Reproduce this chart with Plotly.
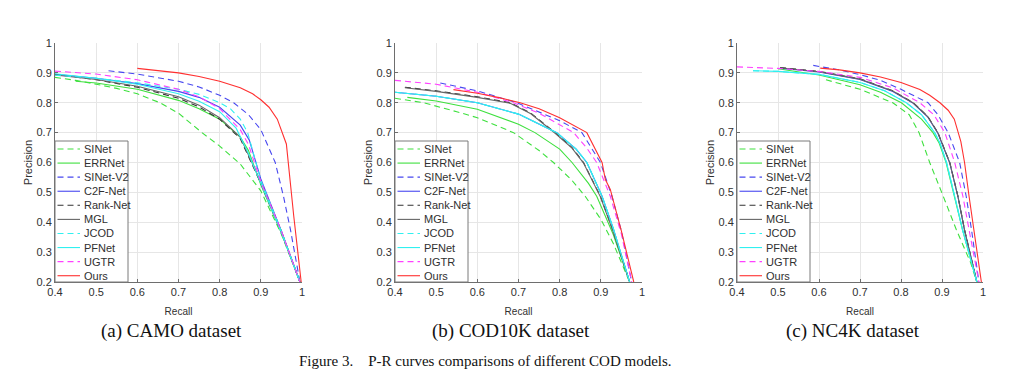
import plotly.graph_objects as go

# ---------------- data ----------------
methods = ["SINet", "ERRNet", "SINet-V2", "C2F-Net", "Rank-Net", "MGL", "JCOD", "PFNet", "UGTR", "Ours"]
colors = ["#3ee03e", "#3ee03e", "#4848f0", "#4848f0", "#333333", "#666666", "#30f0f0", "#30f0f0", "#ff40ff", "#ff3030"]
dashes = ["dash", "solid", "dash", "solid", "dash", "solid", "dash", "solid", "dash", "solid"]

datasets = ["CAMO", "COD10K", "NC4K"]
captions = ["(a) CAMO dataset", "(b) COD10K dataset", "(c) NC4K dataset"]
figure_caption = "Figure 3.\u00a0\u00a0\u00a0 P-R curves comparisons of different COD models."
tick_vals_x = [0.4, 0.5, 0.6, 0.7, 0.8, 0.9, 1.0]
tick_text_x = ["0.4", "0.5", "0.6", "0.7", "0.8", "0.9", "1"]
tick_vals_y = [0.2, 0.3, 0.4, 0.5, 0.6, 0.7, 0.8, 0.9, 1.0]
tick_text_y = ["0.2", "0.3", "0.4", "0.5", "0.6", "0.7", "0.8", "0.9", "1"]

# CAMO
camo_sinet_r = [0.40, 0.45, 0.50, 0.55, 0.60, 0.655, 0.70, 0.757, 0.80, 0.85, 0.90, 0.95, 0.995]
camo_sinet_p = [0.885, 0.875, 0.862, 0.848, 0.83, 0.80, 0.765, 0.70, 0.655, 0.595, 0.505, 0.36, 0.20]
camo_errnet_r = [0.45, 0.50, 0.60, 0.70, 0.75, 0.80, 0.85, 0.87, 0.90, 0.95, 0.995]
camo_errnet_p = [0.872, 0.866, 0.845, 0.808, 0.78, 0.745, 0.685, 0.64, 0.525, 0.365, 0.20]
camo_sinetv2_r = [0.53, 0.60, 0.70, 0.75, 0.80, 0.834, 0.87, 0.90, 0.935, 0.955, 0.972, 0.995]
camo_sinetv2_p = [0.907, 0.896, 0.872, 0.853, 0.825, 0.80, 0.76, 0.71, 0.60, 0.487, 0.375, 0.20]
camo_c2f_r = [0.40, 0.50, 0.60, 0.70, 0.75, 0.80, 0.85, 0.872, 0.90, 0.95, 0.995]
camo_c2f_p = [0.895, 0.882, 0.864, 0.838, 0.818, 0.785, 0.725, 0.675, 0.545, 0.37, 0.20]
camo_rank_r = [0.40, 0.50, 0.60, 0.70, 0.75, 0.80, 0.85, 0.90, 0.95, 0.995]
camo_rank_p = [0.895, 0.877, 0.852, 0.815, 0.786, 0.745, 0.68, 0.53, 0.365, 0.20]
camo_mgl_r = [0.40, 0.50, 0.60, 0.70, 0.75, 0.80, 0.85, 0.90, 0.95, 0.995]
camo_mgl_p = [0.893, 0.878, 0.855, 0.82, 0.792, 0.75, 0.685, 0.535, 0.37, 0.20]
camo_jcod_r = [0.40, 0.50, 0.60, 0.70, 0.75, 0.80, 0.826, 0.85, 0.868, 0.90, 0.95, 0.995]
camo_jcod_p = [0.892, 0.882, 0.867, 0.845, 0.828, 0.80, 0.78, 0.745, 0.70, 0.54, 0.37, 0.20]
camo_pfnet_r = [0.40, 0.50, 0.60, 0.70, 0.75, 0.80, 0.84, 0.87, 0.90, 0.95, 0.995]
camo_pfnet_p = [0.897, 0.882, 0.862, 0.83, 0.805, 0.77, 0.715, 0.63, 0.53, 0.365, 0.20]
camo_ugtr_r = [0.40, 0.50, 0.60, 0.70, 0.75, 0.80, 0.85, 0.87, 0.90, 0.95, 0.995]
camo_ugtr_p = [0.906, 0.896, 0.877, 0.845, 0.82, 0.78, 0.71, 0.66, 0.535, 0.37, 0.20]
camo_ours_r = [0.60, 0.65, 0.70, 0.75, 0.80, 0.85, 0.88, 0.90, 0.92, 0.94, 0.962, 0.98, 0.998]
camo_ours_p = [0.915, 0.908, 0.90, 0.888, 0.872, 0.85, 0.83, 0.81, 0.785, 0.745, 0.662, 0.42, 0.20]

# COD10K
cod_sinet_r = [0.40, 0.47, 0.55, 0.60, 0.688, 0.75, 0.785, 0.83, 0.862, 0.90, 0.93, 0.97]
cod_sinet_p = [0.815, 0.80, 0.77, 0.75, 0.70, 0.64, 0.60, 0.54, 0.487, 0.41, 0.33, 0.20]
cod_errnet_r = [0.43, 0.50, 0.60, 0.70, 0.74, 0.80, 0.83, 0.87, 0.89, 0.93, 0.97]
cod_errnet_p = [0.818, 0.806, 0.778, 0.728, 0.70, 0.645, 0.60, 0.53, 0.487, 0.36, 0.20]
cod_sinetv2_r = [0.51, 0.60, 0.696, 0.75, 0.80, 0.854, 0.899, 0.927, 0.95, 0.975]
cod_sinetv2_p = [0.866, 0.84, 0.80, 0.77, 0.74, 0.70, 0.60, 0.487, 0.37, 0.20]
cod_c2f_r = [0.40, 0.50, 0.60, 0.70, 0.793, 0.84, 0.866, 0.903, 0.93, 0.97]
cod_c2f_p = [0.835, 0.822, 0.80, 0.762, 0.70, 0.645, 0.60, 0.487, 0.38, 0.20]
cod_rank_r = [0.424, 0.50, 0.60, 0.68, 0.73, 0.789, 0.83, 0.858, 0.899, 0.93, 0.97]
cod_rank_p = [0.852, 0.84, 0.82, 0.80, 0.765, 0.70, 0.65, 0.60, 0.487, 0.37, 0.20]
cod_mgl_r = [0.424, 0.50, 0.60, 0.68, 0.73, 0.789, 0.83, 0.858, 0.899, 0.93, 0.97]
cod_mgl_p = [0.850, 0.838, 0.818, 0.798, 0.763, 0.698, 0.648, 0.598, 0.485, 0.368, 0.20]
cod_jcod_r = [0.40, 0.50, 0.60, 0.70, 0.793, 0.84, 0.866, 0.903, 0.93, 0.97]
cod_jcod_p = [0.835, 0.822, 0.80, 0.762, 0.70, 0.645, 0.60, 0.487, 0.38, 0.20]
cod_pfnet_r = [0.40, 0.50, 0.60, 0.70, 0.793, 0.84, 0.866, 0.903, 0.93, 0.97]
cod_pfnet_p = [0.835, 0.822, 0.80, 0.762, 0.70, 0.645, 0.60, 0.487, 0.38, 0.20]
cod_ugtr_r = [0.40, 0.50, 0.60, 0.688, 0.75, 0.834, 0.865, 0.89, 0.923, 0.95, 0.975]
cod_ugtr_p = [0.875, 0.862, 0.835, 0.80, 0.765, 0.70, 0.65, 0.60, 0.487, 0.36, 0.20]
cod_ours_r = [0.542, 0.60, 0.65, 0.704, 0.75, 0.80, 0.866, 0.903, 0.911, 0.923, 0.95, 0.98]
cod_ours_p = [0.844, 0.832, 0.818, 0.80, 0.78, 0.75, 0.70, 0.60, 0.543, 0.51, 0.37, 0.20]

# NC4K
nc_sinet_r = [0.617, 0.70, 0.78, 0.82, 0.844, 0.87, 0.903, 0.935, 0.97, 0.985]
nc_sinet_p = [0.877, 0.845, 0.80, 0.76, 0.70, 0.60, 0.487, 0.375, 0.264, 0.20]
nc_errnet_r = [0.50, 0.60, 0.70, 0.75, 0.801, 0.85, 0.878, 0.893, 0.91, 0.93, 0.95, 0.985]
nc_errnet_p = [0.914, 0.893, 0.86, 0.835, 0.80, 0.745, 0.70, 0.665, 0.60, 0.487, 0.375, 0.20]
nc_sinetv2_r = [0.586, 0.65, 0.70, 0.75, 0.80, 0.866, 0.89, 0.915, 0.943, 0.959, 0.972, 0.99]
nc_sinetv2_p = [0.925, 0.91, 0.894, 0.875, 0.845, 0.80, 0.76, 0.70, 0.60, 0.487, 0.375, 0.20]
nc_c2f_r = [0.505, 0.60, 0.70, 0.78, 0.83, 0.865, 0.89, 0.90, 0.919, 0.939, 0.955, 0.985]
nc_c2f_p = [0.916, 0.903, 0.878, 0.838, 0.798, 0.753, 0.698, 0.663, 0.598, 0.485, 0.373, 0.20]
nc_rank_r = [0.505, 0.60, 0.70, 0.78, 0.83, 0.865, 0.89, 0.90, 0.919, 0.939, 0.955, 0.985]
nc_rank_p = [0.918, 0.905, 0.88, 0.84, 0.80, 0.755, 0.70, 0.665, 0.60, 0.487, 0.375, 0.20]
nc_mgl_r = [0.505, 0.60, 0.70, 0.78, 0.83, 0.865, 0.89, 0.90, 0.919, 0.939, 0.955, 0.985]
nc_mgl_p = [0.917, 0.904, 0.879, 0.839, 0.799, 0.754, 0.699, 0.664, 0.599, 0.486, 0.374, 0.20]
nc_jcod_r = [0.439, 0.50, 0.60, 0.70, 0.76, 0.813, 0.85, 0.882, 0.895, 0.911, 0.931, 0.95, 0.985]
nc_jcod_p = [0.907, 0.905, 0.895, 0.868, 0.84, 0.80, 0.76, 0.70, 0.665, 0.60, 0.487, 0.375, 0.20]
nc_pfnet_r = [0.439, 0.50, 0.60, 0.70, 0.76, 0.813, 0.85, 0.882, 0.895, 0.911, 0.931, 0.95, 0.985]
nc_pfnet_p = [0.907, 0.905, 0.895, 0.868, 0.84, 0.80, 0.76, 0.70, 0.665, 0.60, 0.487, 0.375, 0.20]
nc_ugtr_r = [0.40, 0.50, 0.60, 0.70, 0.78, 0.846, 0.88, 0.907, 0.931, 0.951, 0.966, 0.99]
nc_ugtr_p = [0.92, 0.915, 0.905, 0.885, 0.85, 0.80, 0.76, 0.70, 0.60, 0.487, 0.375, 0.20]
nc_ours_r = [0.603, 0.65, 0.70, 0.75, 0.80, 0.846, 0.87, 0.895, 0.915, 0.93, 0.946, 0.955, 0.966, 0.977, 0.996]
nc_ours_p = [0.916, 0.91, 0.90, 0.886, 0.868, 0.844, 0.825, 0.80, 0.775, 0.745, 0.67, 0.60, 0.487, 0.375, 0.20]

curves = [
    [(camo_sinet_r, camo_sinet_p), (camo_errnet_r, camo_errnet_p), (camo_sinetv2_r, camo_sinetv2_p),
     (camo_c2f_r, camo_c2f_p), (camo_rank_r, camo_rank_p), (camo_mgl_r, camo_mgl_p),
     (camo_jcod_r, camo_jcod_p), (camo_pfnet_r, camo_pfnet_p), (camo_ugtr_r, camo_ugtr_p),
     (camo_ours_r, camo_ours_p)],
    [(cod_sinet_r, cod_sinet_p), (cod_errnet_r, cod_errnet_p), (cod_sinetv2_r, cod_sinetv2_p),
     (cod_c2f_r, cod_c2f_p), (cod_rank_r, cod_rank_p), (cod_mgl_r, cod_mgl_p),
     (cod_jcod_r, cod_jcod_p), (cod_pfnet_r, cod_pfnet_p), (cod_ugtr_r, cod_ugtr_p),
     (cod_ours_r, cod_ours_p)],
    [(nc_sinet_r, nc_sinet_p), (nc_errnet_r, nc_errnet_p), (nc_sinetv2_r, nc_sinetv2_p),
     (nc_c2f_r, nc_c2f_p), (nc_rank_r, nc_rank_p), (nc_mgl_r, nc_mgl_p),
     (nc_jcod_r, nc_jcod_p), (nc_pfnet_r, nc_pfnet_p), (nc_ugtr_r, nc_ugtr_p),
     (nc_ours_r, nc_ours_p)],
]

# ---------------- layout geometry (pixels of the 1024x378 page) ----------------
W, H = 1024, 378
x_px = [(55, 302), (395, 642), (737, 983)]
y_px = (43, 282)
DASH = "6px,4px"
SANS = "Liberation Sans, Arial, sans-serif"
SERIF = "Liberation Serif, Times New Roman, serif"

fig = go.Figure()
layout = dict(
    width=W, height=H, margin=dict(l=0, r=0, t=0, b=0, autoexpand=False),
    paper_bgcolor="white", plot_bgcolor="white", showlegend=False,
    shapes=[], annotations=[],
)

for i, ds in enumerate(datasets):
    sfx = "" if i == 0 else str(i + 1)
    xa, ya = "x" + sfx, "y" + sfx
    for m, (r, p) in enumerate(curves[i]):
        fig.add_trace(go.Scatter(
            x=r, y=p, mode="lines", name=methods[m], xaxis=xa, yaxis=ya,
            line=dict(color=colors[m], width=1.1, dash=DASH if dashes[m] == "dash" else "solid"),
            showlegend=False, hoverinfo="name+x+y",
        ))
    axis_common = dict(
        showgrid=True, gridcolor="#e6e6e6", gridwidth=1, zeroline=False,
        showline=True, linecolor="#6e6e6e", linewidth=1,
        ticks="inside", ticklen=3, tickcolor="#6e6e6e", automargin=False,
        tickfont=dict(family=SANS, size=11, color="#303030"),
    )
    layout["xaxis" + sfx] = dict(
        axis_common, domain=[x_px[i][0] / W, x_px[i][1] / W], range=[0.4, 1.0],
        anchor=ya, tickvals=tick_vals_x, ticktext=tick_text_x,
        title=dict(text="Recall", font=dict(family=SANS, size=10, color="#303030"), standoff=10),
    )
    layout["yaxis" + sfx] = dict(
        axis_common, domain=[1 - y_px[1] / H, 1 - y_px[0] / H], range=[0.2, 1.0],
        anchor=xa, tickvals=tick_vals_y, ticktext=tick_text_y,
        title=dict(text="Precision", font=dict(family=SANS, size=11, color="#303030"), standoff=1),
    )
    # in-axes legend box (bottom-left), MATLAB style
    xd, yd = xa + " domain", ya + " domain"
    pw = x_px[i][1] - x_px[i][0]
    ph = y_px[1] - y_px[0]
    box_w = 73 / pw
    box_h = 141 / ph
    layout["shapes"].append(dict(type="rect", xref=xd, yref=yd, x0=0, x1=box_w, y0=0, y1=box_h,
                                 line=dict(color="#7a7a7a", width=1), fillcolor="white", layer="above"))
    for m, name in enumerate(methods):
        yc = (133 - 14.08 * m) / ph
        layout["shapes"].append(dict(type="line", xref=xd, yref=yd, x0=2.5 / pw, x1=25 / pw, y0=yc, y1=yc,
                                     line=dict(color=colors[m], width=1.1,
                                               dash=DASH if dashes[m] == "dash" else "solid"),
                                     layer="above"))
        layout["annotations"].append(dict(xref=xd, yref=yd, x=27 / pw, y=yc, text=name, showarrow=False,
                                          xanchor="left", yanchor="middle",
                                          font=dict(family=SANS, size=11, color="#303030")))
    # sub caption
    layout["annotations"].append(dict(xref="paper", yref="paper", x=(x_px[i][0] + x_px[i][1]) / 2 / W - 0.007,
                                      y=1 - 331 / H, text=captions[i], showarrow=False,
                                      xanchor="center", yanchor="middle",
                                      font=dict(family=SERIF, size=19, color="#111111")))

layout["annotations"].append(dict(xref="paper", yref="paper", x=485 / W, y=1 - 361 / H, text=figure_caption,
                                  showarrow=False, xanchor="center", yanchor="middle",
                                  font=dict(family=SERIF, size=15, color="#111111")))

fig.update_layout(**layout)
fig.write_html("out.html", config={"displayModeBar": False},
               post_script="document.body.style.margin='0';document.body.style.overflow='hidden';")
